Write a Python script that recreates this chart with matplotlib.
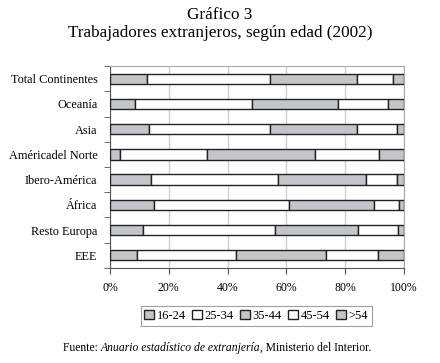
import matplotlib
matplotlib.use("Agg")
import matplotlib.pyplot as plt
import numpy as np

# Data (percentages)
regions = ["Total Continentes", "Oceanía", "Asia", "Américadel Norte",
           "Ibero-América", "África", "Resto Europa", "EEE"]
age_groups = ["16-24", "25-34", "35-44", "45-54", ">54"]
g16_24 = [12.5, 8.5, 13.3, 3.4, 13.8, 15.0, 11.2, 9.1]
g25_34 = [42.1, 39.7, 41.1, 29.7, 43.5, 45.9, 45.1, 33.8]
g35_44 = [29.4, 29.5, 29.8, 36.7, 29.7, 28.8, 28.2, 30.6]
g45_54 = [12.4, 17.0, 13.3, 21.7, 10.6, 8.7, 13.6, 17.7]
g55 = [3.6, 5.3, 2.5, 8.5, 2.4, 1.6, 1.9, 8.8]

series = [g16_24, g25_34, g35_44, g45_54, g55]
colors = ["#c2c5ca", "white", "#c2c5ca", "white", "#c2c5ca"]

plt.rcParams["font.family"] = ["Liberation Serif", "DejaVu Serif"]

fig = plt.figure(figsize=(4.4, 3.63), dpi=100)
ax = fig.add_axes([0.25, 0.262, 0.668, 0.556])

ypos = np.arange(len(regions))[::-1]
left = np.zeros(len(regions))
for name, vals, col in zip(age_groups, series, colors):
    vals = np.array(vals)
    ax.barh(ypos, vals, left=left, height=0.41, color=col,
            edgecolor="#222222", linewidth=1.0, label=name, zorder=3)
    left += vals

ax.set_xlim(0, 100)
ax.set_ylim(-0.5, 7.5)
ax.set_xticks(np.arange(0, 101, 20))
ax.set_xticklabels([f"{v}%" for v in range(0, 101, 20)], fontsize=8.5)
ax.set_yticks(ypos)
ax.set_yticklabels(regions, fontsize=8.8)
ax.set_yticks(np.arange(-0.5, 8, 1), minor=True)
ax.tick_params(axis="y", which="major", length=0, pad=9)
ax.tick_params(axis="y", which="minor", length=4, color="#555555", direction="out")
ax.tick_params(axis="x", length=4, color="#555555", pad=6)
ax.grid(axis="x", color="#d0d0d0", linewidth=1.0, zorder=0)
for side in ["top", "right"]:
    ax.spines[side].set_color("#aaaaaa")
for side in ["left", "bottom"]:
    ax.spines[side].set_color("#555555")

fig.text(0.5, 0.96, "Gráfico 3", ha="center", va="center", fontsize=12.3)
fig.text(0.5, 0.91, "Trabajadores extranjeros, según edad (2002)",
         ha="center", va="center", fontsize=12.3)

leg = fig.legend(loc="center", bbox_to_anchor=(0.582, 0.13), ncol=5,
                 fontsize=9, frameon=True, fancybox=False,
                 handlelength=0.8, handleheight=0.8, handletextpad=0.2,
                 columnspacing=0.5, borderpad=0.3, borderaxespad=0)
leg.get_frame().set_edgecolor("#888888")
leg.get_frame().set_linewidth(0.8)

# Source line with an italic part
fig.canvas.draw()
renderer = fig.canvas.get_renderer()
parts = [("Fuente: ", "normal"), ("Anuario estadístico de extranjería", "italic"),
         (", Ministerio del Interior.", "normal")]
texts = []
for s, style in parts:
    texts.append(fig.text(0, 0.041, s, fontsize=8.4, style=style, va="center"))
widths = [t.get_window_extent(renderer).width for t in texts]
total = sum(widths)
x = (fig.bbox.width * 0.494 - total / 2)
for t, w in zip(texts, widths):
    t.set_x(x / fig.bbox.width)
    x += w

fig.savefig("out.png", dpi=100)
